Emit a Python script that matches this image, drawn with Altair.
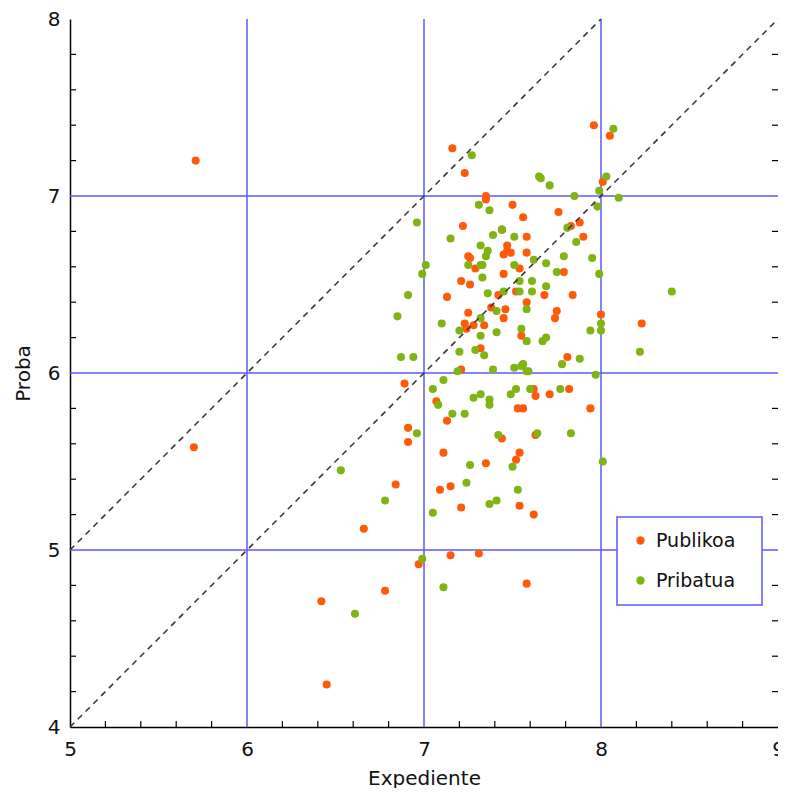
import altair as alt
import pandas as pd

# Publikoa (orange) points
pub_x = [5.71, 5.70, 6.66, 6.42, 6.45, 6.78, 6.84, 7.09, 7.15, 7.21, 7.54, 6.97, 7.15, 7.31,
         7.62, 7.58, 7.16, 7.23, 7.35, 7.35, 7.50, 7.22, 7.44, 7.56, 7.96, 8.05, 8.01, 7.76,
         7.88, 7.83, 7.90, 7.58, 7.47, 7.47, 7.45, 7.49, 7.25, 7.26, 7.29, 7.45, 7.54, 7.21,
         7.26, 7.13, 7.42, 7.25, 7.38, 7.46, 7.45, 7.23, 7.28, 7.34, 7.24, 7.55, 7.32, 7.58,
         7.79, 7.52, 7.68, 7.84, 7.58, 7.75, 7.74, 8.00, 8.23, 7.81, 7.21, 6.89, 7.07, 7.13,
         7.53, 7.56, 6.91, 6.91, 7.44, 7.11, 7.35, 7.54, 7.52, 7.62, 7.63, 7.71, 7.82, 7.94,
         7.63]
pub_y = [7.20, 5.58, 5.12, 4.71, 4.24, 4.77, 5.37, 5.34, 5.36, 5.24, 5.25, 4.92, 4.97, 4.98,
         5.20, 4.81, 7.27, 7.13, 7.00, 6.98, 6.95, 6.83, 6.81, 6.88, 7.40, 7.34, 7.08, 6.91,
         6.85, 6.83, 6.77, 6.77, 6.72, 6.69, 6.67, 6.68, 6.66, 6.65, 6.59, 6.56, 6.59, 6.52,
         6.50, 6.43, 6.44, 6.34, 6.37, 6.36, 6.31, 6.28, 6.27, 6.27, 6.25, 6.21, 6.14, 6.68,
         6.57, 6.46, 6.44, 6.44, 6.40, 6.35, 6.31, 6.33, 6.28, 6.09, 6.02, 5.94, 5.84, 5.73,
         5.80, 5.80, 5.69, 5.61, 5.63, 5.55, 5.49, 5.55, 5.51, 5.91, 5.87, 5.88, 5.91, 5.80,
         5.65]

# Pribatua (green) points
pri_x = [6.53, 6.61, 6.78, 7.24, 7.05, 7.37, 7.41, 7.53, 6.99, 7.11, 7.27, 6.96, 7.31, 7.37,
         7.15, 7.39, 7.44, 7.51, 8.07, 7.65, 7.66, 7.71, 7.85, 8.03, 7.99, 8.10, 7.98, 7.81,
         7.86, 7.32, 7.25, 7.35, 7.36, 7.32, 7.33, 7.33, 7.51, 7.01, 6.99, 6.91, 7.36, 7.45,
         7.54, 7.54, 6.85, 7.10, 7.41, 7.32, 7.20, 7.32, 7.41, 7.55, 7.20, 7.29, 7.34, 6.94,
         6.87, 7.62, 7.69, 7.79, 7.95, 7.75, 7.99, 7.61, 7.69, 7.61, 7.58, 8.00, 8.00, 7.94,
         7.58, 7.69, 7.67, 8.22, 7.88, 8.40, 7.78, 7.56, 7.51, 7.58, 7.59, 7.97, 7.19, 7.39,
         7.55, 7.11, 7.05, 7.08, 7.16, 7.23, 7.28, 7.32, 7.37, 7.37, 7.49, 7.52, 7.60, 7.77,
         6.96, 7.42, 7.64, 7.83, 7.26, 7.50, 8.01]
pri_y = [5.45, 4.64, 5.28, 5.38, 5.21, 5.26, 5.28, 5.34, 4.95, 4.79, 7.23, 6.85, 6.95, 6.92,
         6.76, 6.78, 6.81, 6.77, 7.38, 7.11, 7.10, 7.06, 7.00, 7.11, 7.03, 6.99, 6.94, 6.82,
         6.74, 6.72, 6.61, 6.66, 6.69, 6.61, 6.61, 6.54, 6.61, 6.61, 6.56, 6.44, 6.45, 6.46,
         6.52, 6.46, 6.32, 6.28, 6.35, 6.31, 6.24, 6.21, 6.23, 6.25, 6.12, 6.13, 6.10, 6.09,
         6.09, 6.64, 6.62, 6.66, 6.65, 6.57, 6.56, 6.52, 6.49, 6.46, 6.36, 6.28, 6.24, 6.24,
         6.18, 6.20, 6.18, 6.12, 6.08, 6.46, 6.05, 6.05, 6.03, 6.01, 6.01, 5.99, 6.01, 6.02,
         6.04, 5.96, 5.91, 5.82, 5.77, 5.77, 5.86, 5.88, 5.85, 5.82, 5.88, 5.91, 5.91, 5.91,
         5.66, 5.65, 5.66, 5.66, 5.48, 5.47, 5.50]

series_names = ["Publikoa", "Pribatua"]
series_colors = ["#ff5a0a", "#7fb414"]

x_ticks = [5, 6, 7, 8, 9]
y_ticks = [4, 5, 6, 7, 8]
x_grid = [6, 7, 8]
y_grid = [5, 6, 7]
x_minor = [5.2, 5.4, 5.6, 5.8, 6.2, 6.4, 6.6, 6.8, 7.2, 7.4, 7.6, 7.8, 8.2, 8.4, 8.6, 8.8]
y_minor = [4.2, 4.4, 4.6, 4.8, 5.2, 5.4, 5.6, 5.8, 6.2, 6.4, 6.6, 6.8, 7.2, 7.4, 7.6, 7.8]

# dashed reference lines: y = x and y = x - 1
diag_id = ["a", "a", "b", "b"]
diag_x = [5, 8, 5, 9]
diag_y = [5, 8, 4, 8]

W, H = 708, 708
FONT = "DejaVu Sans"
BLUE = "#5a5aff"

pts = pd.DataFrame({
    "x": pub_x + pri_x,
    "y": pub_y + pri_y,
    "serie": ["Publikoa"] * len(pub_x) + ["Pribatua"] * len(pri_x),
})

xscale = alt.Scale(domain=[5, 9], nice=False, zero=False)
yscale = alt.Scale(domain=[4, 8], nice=False, zero=False)
xaxis = alt.Axis(title="Expediente", values=x_ticks, grid=False, ticks=False,
                 domainColor="black", domainWidth=1.5, labelFontSize=20, titleFontSize=20,
                 labelFont=FONT, titleFont=FONT, labelColor="#111111", titleColor="#111111",
                 titleFontWeight="normal", labelPadding=12, titlePadding=9, labelFlush=False,
                 labelOverlap=False)
yaxis = alt.Axis(title="Proba", values=y_ticks, grid=False, ticks=False,
                 domainColor="black", domainWidth=1.5, labelFontSize=20, titleFontSize=20,
                 labelFont=FONT, titleFont=FONT, labelColor="#111111", titleColor="#111111",
                 titleFontWeight="normal", labelPadding=10, titlePadding=14, labelFlush=False,
                 labelOverlap=False)

gx = alt.Chart(pd.DataFrame({"x": x_grid})).mark_rule(color=BLUE, strokeWidth=1.5).encode(
    x=alt.X("x:Q", scale=xscale, axis=xaxis))
gy = alt.Chart(pd.DataFrame({"y": y_grid})).mark_rule(color=BLUE, strokeWidth=1.5).encode(
    y=alt.Y("y:Q", scale=yscale, axis=yaxis))

PAD = "\u00a0\u00a0\u200b"
points = alt.Chart(pts).mark_circle(size=65, opacity=1).encode(
    x=alt.X("x:Q", scale=xscale, axis=xaxis),
    y=alt.Y("y:Q", scale=yscale, axis=yaxis),
    color=alt.Color("serie:N", scale=alt.Scale(domain=series_names, range=series_colors),
                    sort=series_names,
                    legend=alt.Legend(title=None, orient="none", legendX=547, legendY=498,
                                      fillColor="white", strokeColor=BLUE,
                                      padding=14, labelFontSize=19, labelFont=FONT,
                                      labelColor="#111111", symbolType="circle", symbolSize=70,
                                      symbolStrokeWidth=0, rowPadding=20, labelOffset=6,
                                      labelExpr="datum.label + '" + PAD + "'")),
)

diag = alt.Chart(pd.DataFrame({"x": diag_x, "y": diag_y, "id": diag_id})).mark_line(
    color="#333333", strokeDash=[6, 5], strokeWidth=1.5).encode(
    x=alt.X("x:Q", scale=xscale, axis=xaxis),
    y=alt.Y("y:Q", scale=yscale, axis=yaxis),
    detail="id:N")

mx = alt.Chart(pd.DataFrame({"x": x_minor})).mark_rule(color="black", strokeWidth=1.2).encode(
    x=alt.X("x:Q", scale=xscale, axis=xaxis), y=alt.value(H), y2=alt.value(H - 6))
my_left = alt.Chart(pd.DataFrame({"y": y_minor})).mark_rule(color="black", strokeWidth=1.2).encode(
    y=alt.Y("y:Q", scale=yscale, axis=yaxis), x=alt.value(0), x2=alt.value(6))
my_right = alt.Chart(pd.DataFrame({"y": y_minor})).mark_rule(color="black", strokeWidth=1.2).encode(
    y=alt.Y("y:Q", scale=yscale, axis=yaxis), x=alt.value(W - 6), x2=alt.value(W))

chart = alt.layer(gx, gy, points, diag, mx, my_left, my_right).properties(
    width=W, height=H,
    autosize=alt.AutoSizeParams(type="none"),
    padding={"left": 62, "top": 11, "right": 0, "bottom": 61},
    background="white",
).configure_view(stroke=None).configure_legend(strokeWidth=1.5)

chart.save("out.html", embed_options={"renderer": "svg", "actions": False})
